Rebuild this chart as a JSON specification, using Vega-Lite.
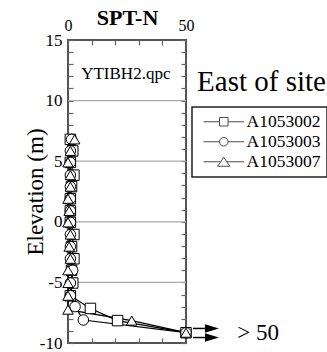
{
  "$schema": "https://vega.github.io/schema/vega-lite/v6.json",
  "width": 118,
  "height": 303,
  "autosize": {"type": "none"},
  "padding": {"left": 68, "top": 40, "right": 141, "bottom": 9},
  "background": "white",
  "config": {
    "view": {"stroke": "#555", "strokeWidth": 2},
    "font": "Liberation Serif",
    "axis": {"domain": false, "grid": false, "labelFont": "Liberation Serif", "titleFont": "Liberation Serif", "labelColor": "#000", "titleColor": "#000", "tickColor": "#666", "tickWidth": 1.2, "tickSize": -5, "labelOverlap": false, "labelFlush": false},
    "legend": {"strokeWidth": 1.5}
  },
  "datasets": {
    "spt": [
      {"s": "A1053002", "e": 6.8, "n": 1},
      {"s": "A1053002", "e": 5.85, "n": 2},
      {"s": "A1053002", "e": 4.9, "n": 1},
      {"s": "A1053002", "e": 3.85, "n": 2.5},
      {"s": "A1053002", "e": 2.9, "n": 1.5},
      {"s": "A1053002", "e": 1.9, "n": 1},
      {"s": "A1053002", "e": 0.9, "n": 1},
      {"s": "A1053002", "e": -0.05, "n": 1},
      {"s": "A1053002", "e": -1.05, "n": 2.5},
      {"s": "A1053002", "e": -2.05, "n": 1.5},
      {"s": "A1053002", "e": -3.05, "n": 2.5},
      {"s": "A1053002", "e": -4.0, "n": 1.5},
      {"s": "A1053002", "e": -5.05, "n": 2},
      {"s": "A1053002", "e": -6.1, "n": 1},
      {"s": "A1053002", "e": -7.15, "n": 9.5},
      {"s": "A1053002", "e": -8.15, "n": 21},
      {"s": "A1053002", "e": -9.15, "n": 50},
      {"s": "A1053003", "e": 6.8, "n": 1.5},
      {"s": "A1053003", "e": 5.85, "n": 1},
      {"s": "A1053003", "e": 4.9, "n": 1},
      {"s": "A1053003", "e": 3.85, "n": 1},
      {"s": "A1053003", "e": 2.9, "n": 1},
      {"s": "A1053003", "e": 1.9, "n": 1},
      {"s": "A1053003", "e": 0.9, "n": 1},
      {"s": "A1053003", "e": -0.05, "n": 1},
      {"s": "A1053003", "e": -1.05, "n": 1},
      {"s": "A1053003", "e": -2.05, "n": 1},
      {"s": "A1053003", "e": -3.05, "n": 1},
      {"s": "A1053003", "e": -4.0, "n": 2},
      {"s": "A1053003", "e": -5.05, "n": 1},
      {"s": "A1053003", "e": -6.1, "n": 1},
      {"s": "A1053003", "e": -7.0, "n": 3},
      {"s": "A1053003", "e": -8.1, "n": 6.5},
      {"s": "A1053003", "e": -9.15, "n": 50},
      {"s": "A1053007", "e": 6.8, "n": 2.8},
      {"s": "A1053007", "e": 5.85, "n": 1},
      {"s": "A1053007", "e": 4.9, "n": 0},
      {"s": "A1053007", "e": 3.85, "n": 1},
      {"s": "A1053007", "e": 2.9, "n": 1},
      {"s": "A1053007", "e": 1.9, "n": 0},
      {"s": "A1053007", "e": 0.9, "n": 0.5},
      {"s": "A1053007", "e": -0.05, "n": 0},
      {"s": "A1053007", "e": -1.05, "n": 1},
      {"s": "A1053007", "e": -2.05, "n": 0.5},
      {"s": "A1053007", "e": -3.05, "n": 1},
      {"s": "A1053007", "e": -4.0, "n": 0},
      {"s": "A1053007", "e": -5.05, "n": 0},
      {"s": "A1053007", "e": -6.1, "n": 0},
      {"s": "A1053007", "e": -7.25, "n": 0},
      {"s": "A1053007", "e": -8.15, "n": 27},
      {"s": "A1053007", "e": -9.15, "n": 50}
    ],
    "grid": [{"g": -5}, {"g": 0}, {"g": 5}, {"g": 10}],
    "keys": [
      {"s": "A1053002", "n": -100, "e": 0},
      {"s": "A1053003", "n": -100, "e": 0},
      {"s": "A1053007", "n": -100, "e": 0}
    ],
    "arrows": [
      {"x1": 53, "x2": 58, "h": 61, "e": -8.8},
      {"x1": 53, "x2": 58, "h": 61, "e": -9.55}
    ]
  },
  "layer": [
    {
      "data": {"name": "grid"},
      "mark": {"type": "rule", "color": "#aaa", "strokeWidth": 1.3},
      "encoding": {
        "y": {
          "field": "g", "type": "quantitative",
          "scale": {"domain": [-10, 15], "nice": false, "zero": false},
          "axis": {
            "orient": "left",
            "values": [-10, -9, -8, -7, -6, -5, -4, -3, -2, -1, 0, 1, 2, 3, 4, 5, 6, 7, 8, 9, 10, 11, 12, 13, 14, 15],
            "labelExpr": "datum.value % 5 === 0 ? (datum.value < 0 ? '-' + abs(datum.value) : '' + datum.value) : ''",
            "labelFont": "Liberation Serif",
            "labelFontSize": 17,
            "labelPadding": 11,
            "title": "Elevation (m)",
            "titleFont": "Liberation Serif",
            "titleFontSize": 23,
            "titleFontWeight": "normal",
            "titleX": -33,
            "titleBaseline": "middle"
          }
        }
      }
    },
    {
      "data": {"name": "spt"},
      "mark": {"type": "line", "color": "black", "strokeWidth": 1.2},
      "encoding": {
        "x": {
          "field": "n", "type": "quantitative",
          "scale": {"domain": [0, 50], "nice": false, "zero": false},
          "axis": {
            "orient": "top",
            "values": [0, 10, 20, 30, 40, 50],
            "labelExpr": "datum.value === 0 || datum.value === 50 ? datum.label : ''",
            "labelFont": "Liberation Serif",
            "labelFontSize": 16,
            "labelPadding": 12,
            "title": "SPT-N",
            "titleFont": "Liberation Serif",
            "titleFontSize": 22,
            "titleFontWeight": "bold",
            "titleY": -23,
            "titleBaseline": "middle"
          }
        },
        "y": {"field": "e", "type": "quantitative", "axis": null},
        "detail": {"field": "s"},
        "order": {"field": "e", "sort": "descending"}
      }
    },
    {
      "data": {"name": "spt"},
      "mark": {"type": "point", "filled": true, "fill": "white", "stroke": "black", "strokeWidth": 1, "opacity": 1},
      "encoding": {
        "x": {
          "field": "n", "type": "quantitative",
          "axis": {"orient": "bottom", "values": [10, 20, 30, 40], "labels": false, "title": null}
        },
        "y": {
          "field": "e", "type": "quantitative",
          "axis": {
            "orient": "right",
            "values": [-10, -9, -8, -7, -6, -5, -4, -3, -2, -1, 0, 1, 2, 3, 4, 5, 6, 7, 8, 9, 10, 11, 12, 13, 14, 15],
            "labels": false, "title": null
          }
        },
        "shape": {
          "field": "s", "type": "nominal",
          "scale": {"domain": ["A1053002", "A1053003", "A1053007"], "range": ["square", "circle", "triangle-up"]},
          "legend": null
        },
        "size": {"value": 110}
      }
    },
    {
      "data": {"name": "keys"},
      "mark": {"type": "point", "filled": false, "color": "black", "strokeWidth": 1},
      "encoding": {
        "x": {"field": "n", "type": "quantitative", "axis": null},
        "y": {"field": "e", "type": "quantitative", "axis": null},
        "shape": {
          "field": "s", "type": "nominal",
          "scale": {
            "domain": ["A1053002", "A1053003", "A1053007"],
            "range": [
              "M-4.5,0H-0.95M0.95,0H4.5M-0.95,-0.95H0.95V0.95H-0.95Z",
              "M-4.5,0H-0.95M0.95,0H4.5M0.95,0L0.878,0.364L0.672,0.672L0.364,0.878L0,0.95L-0.364,0.878L-0.672,0.672L-0.878,0.364L-0.95,0L-0.878,-0.364L-0.672,-0.672L-0.364,-0.878L0,-0.95L0.364,-0.878L0.672,-0.672L0.878,-0.364Z",
              "M-4.5,0H-0.68M0.68,0H4.5M0,-1L1.35,1H-1.35Z"
            ]
          },
          "legend": {
            "orient": "none",
            "legendX": 124,
            "legendY": 67,
            "title": null,
            "padding": 6,
            "strokeColor": "#222",
            "labelFont": "Liberation Serif",
            "labelFontSize": 17.5,
            "labelColor": "#000",
            "symbolSize": 81,
            "symbolStrokeWidth": 1,
            "symbolStrokeColor": "black",
            "symbolFillColor": "white",
            "symbolOffset": 17,
            "labelOffset": 14,
            "rowPadding": 1
          }
        }
      }
    },
    {
      "data": {"values": [{"t": "YTIBH2.qpc", "n": 24.5, "e": 11.76}]},
      "mark": {"type": "text", "font": "Liberation Serif", "fontSize": 17, "align": "center", "baseline": "alphabetic", "color": "#000"},
      "encoding": {
        "x": {"field": "n", "type": "quantitative", "axis": null},
        "y": {"field": "e", "type": "quantitative", "axis": null},
        "text": {"field": "t"}
      }
    },
    {
      "data": {"values": [{"t": "East of site", "n": 54.7, "e": 11.5}]},
      "mark": {"type": "text", "font": "Liberation Serif", "fontSize": 29, "align": "left", "baseline": "middle", "color": "#000"},
      "encoding": {
        "x": {"field": "n", "type": "quantitative", "axis": null},
        "y": {"field": "e", "type": "quantitative", "axis": null},
        "text": {"field": "t"}
      }
    },
    {
      "data": {"values": [{"t": "> 50", "n": 71.7, "e": -9.18}]},
      "mark": {"type": "text", "font": "Liberation Serif", "fontSize": 23, "align": "left", "baseline": "middle", "color": "#000"},
      "encoding": {
        "x": {"field": "n", "type": "quantitative", "axis": null},
        "y": {"field": "e", "type": "quantitative", "axis": null},
        "text": {"field": "t"}
      }
    },
    {
      "data": {"name": "arrows"},
      "mark": {"type": "rule", "color": "black", "strokeWidth": 1.5},
      "encoding": {
        "x": {"field": "x1", "type": "quantitative", "axis": null},
        "x2": {"field": "x2"},
        "y": {"field": "e", "type": "quantitative", "axis": null}
      }
    },
    {
      "data": {"name": "arrows"},
      "mark": {"type": "point", "shape": "M-1,-0.6L1,0L-1,0.6Z", "filled": true, "color": "black", "size": 196, "opacity": 1},
      "encoding": {
        "x": {"field": "h", "type": "quantitative", "axis": null},
        "y": {"field": "e", "type": "quantitative", "axis": null}
      }
    }
  ],
  "resolve": {
    "axis": {"x": "independent", "y": "independent"},
    "scale": {"shape": "independent"}
  }
}
